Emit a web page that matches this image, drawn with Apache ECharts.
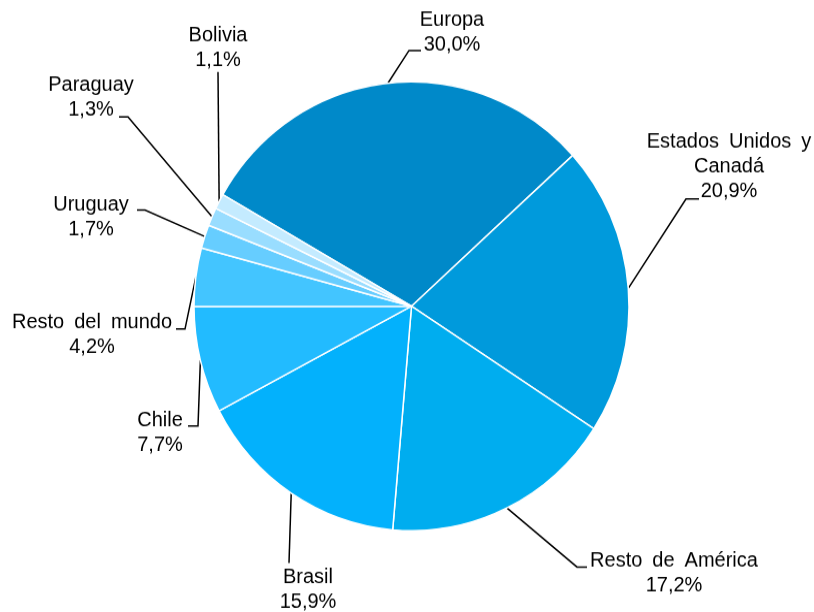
<!DOCTYPE html>
<html>
<head>
<meta charset="utf-8">
<script src="https://cdn.jsdelivr.net/npm/echarts@6/dist/echarts.min.js"></script>
<style>
  html, body { margin: 0; padding: 0; background: #fff; }
  #wrap { width: 814px; height: 612px; overflow: hidden; }
  #chart { width: 814px; height: 593px; transform: scaleY(1.032); transform-origin: 0 0; }
</style>
</head>
<body>
<div id="wrap"><div id="chart"></div></div>
<script>
// ---- data ----
const categories = ['Europa', 'Estados Unidos y Canadá', 'Resto de América', 'Brasil', 'Chile',
                    'Resto del mundo', 'Uruguay', 'Paraguay', 'Bolivia'];
const shares = [30.0, 20.9, 17.2, 15.9, 7.7, 4.2, 1.7, 1.3, 1.1];
const sliceColors = ['#0089C9', '#009ADC', '#00ADEF', '#03B1FC', '#22BBFF',
                     '#43C5FF', '#66CDFF', '#99DDFF', '#C4EBFF'];

// ---- label placement (picture pixels): text centre x, text top, leader elbow and end ----
const SY = 1.032;
const labelPlaces = [
  { cx: 452, top: 8,   elbow: [409, 50.5], end: [421, 50.5] },
  { cx: 729, top: 130, elbow: [686, 199],  end: [699, 199] },
  { cx: 674, top: 548, elbow: [577, 567],  end: [587, 567] },
  { cx: 308, top: 565, elbow: [289, 563],  end: [289, 563] },
  { cx: 160, top: 408, elbow: [198, 426],  end: [188, 426] },
  { cx: 92,  top: 310, elbow: [185, 329],  end: [176, 329] },
  { cx: 91,  top: 192, elbow: [145, 210],  end: [137, 210] },
  { cx: 91,  top: 73,  elbow: [128, 117],  end: [119, 117] },
  { cx: 218, top: 23,  elbow: [218, 72],   end: [218, 72] }
];

function fmtLabel(p) {
  const name = p.name.replace('Estados Unidos y ', 'Estados Unidos y\n').replace(/ /g, '\u2002');
  return name + '\n' + p.value.toFixed(1).replace('.', ',') + '%';
}

const chart = echarts.init(document.getElementById('chart'), null, { renderer: 'canvas' });
chart.setOption({
  animation: false,
  backgroundColor: '#ffffff',
  series: [{
    type: 'pie',
    center: [411.5, 296.7],
    radius: 217.5,
    startAngle: 150.2,
    clockwise: true,
    avoidLabelOverlap: false,
    minShowLabelAngle: 0,
    data: categories.map((c, i) => ({ name: c, value: shares[i], itemStyle: { color: sliceColors[i] } })),
    itemStyle: { borderColor: '#ffffff', borderWidth: 1.5 },
    label: {
      show: true,
      position: 'outside',
      formatter: fmtLabel,
      color: '#000',
      fontFamily: '"Liberation Sans", Arial, sans-serif',
      fontSize: 20,
      lineHeight: 24,
      align: 'center'
    },
    labelLine: {
      show: true,
      length: 10,
      length2: 10,
      lineStyle: { color: '#000', width: 1.5 }
    },
    labelLayout: function (p) {
      const L = labelPlaces[p.dataIndex];
      const start = (p.labelLinePoints && p.labelLinePoints[0]) ? p.labelLinePoints[0] : [L.elbow[0], L.elbow[1] / SY];
      return {
        x: L.cx,
        y: L.top / SY,
        align: 'center',
        verticalAlign: 'top',
        labelLinePoints: [
          [start[0], start[1]],
          [L.elbow[0], L.elbow[1] / SY],
          [L.end[0], L.end[1] / SY]
        ]
      };
    }
  }]
});
</script>
</body>
</html>
